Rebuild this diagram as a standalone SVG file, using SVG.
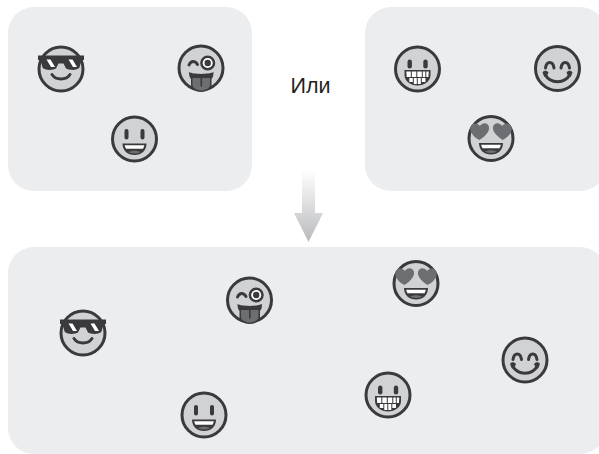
<svg xmlns="http://www.w3.org/2000/svg" width="599" height="454" viewBox="0 0 599 454">
<style>
.panel{fill:#ecedef}
.face{fill:#d1d2d4;stroke:#3a3a3c;stroke-width:3}
.dark{fill:#3a3a3c}
.line{fill:none;stroke:#3a3a3c;stroke-width:3;stroke-linecap:round}
.white{fill:#fff}
.mid{fill:#6d6e71}
.label{font-family:"Liberation Sans",Arial,sans-serif;font-size:21.5px;fill:#231f20}
</style>
<defs>
<linearGradient id="arrowGrad" x1="0" y1="0" x2="0" y2="1">
<stop offset="0" stop-color="#ffffff"/>
<stop offset="1" stop-color="#b9babd"/>
</linearGradient>
<g id="mouthOpen">
<path d="M-12 4.500H12C12 11.500 7 16 0 16S-12 11.500-12 4.500Z" class="dark"/>
<path d="M-9.800 6.300H9.800C9.600 7.600 9.200 8.700 8.500 9.800H-8.500C-9.200 8.700-9.600 7.600-9.800 6.300Z" class="white"/>
<path d="M-6 13.200C-3 11.200 3 11.200 6 13.200C2 15-2 15-6 13.200Z" class="mid"/>
</g>
<symbol id="smile" overflow="visible">
<circle r="22" class="face"/>
<rect x="-10" y="-10" width="4" height="10.500" rx="2" class="dark"/>
<rect x="6" y="-10" width="4" height="10.500" rx="2" class="dark"/>
<use href="#mouthOpen"/>
</symbol>
<symbol id="shades" overflow="visible">
<circle r="22" class="face"/>
<path d="M-23-13.500H23V-9H20.500L18.500-1.500C17 1.500 8 1.500 5-0.500L2.500-5.500H-2.500L-5-0.500C-8 1.500-17 1.500-18.500-1.500L-20.500-9H-23Z" class="dark"/>
<path d="M-14.500-9.500H-10.500L-6-2H-10ZM7.500-9.500H11.500L16-2H12Z" class="white"/>
<path d="M-9 5.500C-5 11.500 5 11.500 9 5.500" class="line"/>
</symbol>
<symbol id="wink" overflow="visible">
<circle r="22" class="face"/>
<path d="M-12-3C-10-7.500-6-7.500-3.500-3.500" class="line"/>
<circle cx="6.700" cy="-5" r="6.300" fill="#fff" stroke="#3a3a3c" stroke-width="2.500"/>
<circle cx="6.700" cy="-5" r="3.200" class="dark"/>
<path d="M-12 4C-8 6.500 8 6.500 12.500 4C12.500 8 11.500 10 10.500 11V17C10.500 21 5 24 0 24S-10 21-10 17V11C-11 10-12 8-12 4Z" class="dark"/>
<path d="M-8.500 10H9V17C9 20 4.500 22.500 0.300 22.500S-8.500 20-8.500 17Z" class="mid"/>
<path d="M0.300 10V18.500" stroke="#3a3a3c" stroke-width="1.600" fill="none"/>
</symbol>
<symbol id="grin" overflow="visible">
<circle r="22" class="face"/>
<rect x="-10" y="-9.500" width="4.400" height="9" rx="2.200" class="dark"/>
<rect x="5.800" y="-9.500" width="4.400" height="9" rx="2.200" class="dark"/>
<path d="M-13 1H13V6C13 12 7 16.500 0 16.500S-13 12-13 6Z" class="dark"/>
<path d="M-11.200 2.500H-6.700V8H-10.800ZM-5.700 2.500H-1.200V8H-5.700ZM-0.200 2.500H4.300V8H-0.200ZM5.300 2.500H7.800V8H5.300ZM8.800 2.500H11.300L10.900 8H8.800ZM-8.200 9H-4.700V13H-8.200ZM-3.700 9H-0.700V15H-3.700ZM0.300 9H3.300V15H0.300ZM4.300 9H8V13H4.300Z" class="white"/>
</symbol>
<symbol id="squint" overflow="visible">
<circle r="22" class="face"/>
<path d="M-12-0.500C-11-8-4.500-8-3.500-0.500M3.500-0.500C4.500-8 11-8 12-0.500" class="line"/>
<path d="M-12.500 6C-7 15.500 7 15.500 12.500 6" class="line"/>
<path d="M-15 4C-14 1.500-10.500 1.500-9 4L-11 8.500H-13ZM15 4C14 1.500 10.500 1.500 9 4L11 8.500H13Z" class="dark"/>
</symbol>
<symbol id="hearts" overflow="visible">
<circle r="22" class="face"/>
<path d="M-11.500 1.500C-16-0.500-22-6-20.500-11.500C-19-16-13.500-16-11-12.500C-9-16-3-16.500-2-11.500C-1-6.500-7-1.500-11.500 1.500Z" class="mid"/>
<path d="M11.500 1.500C16-0.500 22-6 20.500-11.500C19-16 13.500-16 11-12.500C9-16 3-16.500 2-11.500C1-6.500 7-1.500 11.500 1.500Z" class="mid"/>
<use href="#mouthOpen"/>
</symbol>
</defs>
<rect width="599" height="454" fill="#fff"/>
<rect id="panel-top-left" class="panel" x="8" y="7" width="244" height="184" rx="26"/>
<rect id="panel-top-right" class="panel" x="365" y="7" width="241" height="184" rx="26"/>
<rect id="panel-bottom" class="panel" x="8" y="247" width="598" height="207" rx="26"/>
<g id="label-or"><text class="label" x="310.500" y="93" text-anchor="middle">Или</text></g>
<g id="connectors">
<path d="M302 170H315V213H323L308.500 242L294 213H302Z" fill="url(#arrowGrad)"/>
</g>
<g id="tl-shades"><use href="#shades" x="61" y="69"/></g>
<g id="tl-wink"><use href="#wink" x="201" y="68"/></g>
<g id="tl-smile"><use href="#smile" x="134.500" y="139"/></g>
<g id="tr-grin"><use href="#grin" x="417.500" y="69"/></g>
<g id="tr-squint"><use href="#squint" x="557.500" y="68.500"/></g>
<g id="tr-hearts"><use href="#hearts" x="491" y="138.500"/></g>
<g id="b-shades"><use href="#shades" x="83" y="333"/></g>
<g id="b-wink"><use href="#wink" x="249.500" y="300"/></g>
<g id="b-hearts"><use href="#hearts" x="416" y="283.500"/></g>
<g id="b-squint"><use href="#squint" x="525" y="360"/></g>
<g id="b-grin"><use href="#grin" x="388" y="395"/></g>
<g id="b-smile"><use href="#smile" x="204" y="415"/></g>
</svg>
